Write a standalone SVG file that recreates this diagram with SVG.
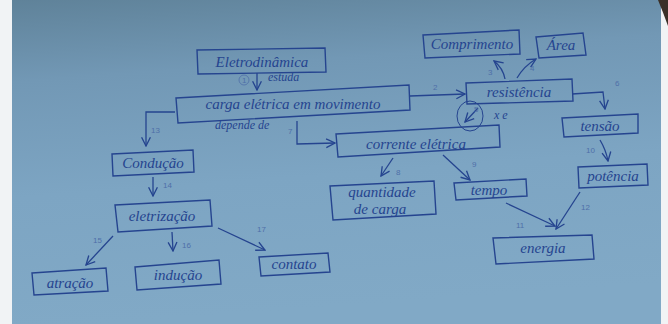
<svg xmlns="http://www.w3.org/2000/svg" width="668" height="324" viewBox="0 0 668 324">
<defs>
<linearGradient id="bg" x1="0" y1="0" x2="0.15" y2="1">
<stop offset="0" stop-color="#5f8299"/>
<stop offset="0.25" stop-color="#7298b5"/>
<stop offset="0.6" stop-color="#7da5c3"/>
<stop offset="1" stop-color="#81a9c6"/>
</linearGradient>
<marker id="ah" viewBox="0 0 10 10" refX="9" refY="5" markerWidth="11" markerHeight="11" orient="auto" markerUnits="userSpaceOnUse">
<path d="M1,1 L9,5 L1,9" fill="none" stroke="#25448f" stroke-width="1.2"/>
</marker>
<style>
.box{fill:none;stroke:#25448f;stroke-width:1.4}
.t{font-family:"Liberation Serif",serif;font-style:italic;fill:#25448f;font-size:15px;text-anchor:middle}
.lab{font-family:"Liberation Serif",serif;font-style:italic;fill:#25448f;font-size:12px}
.num{font-family:"Liberation Sans",sans-serif;fill:#4f6fa8;font-size:8px}
.c{fill:none;stroke:#25448f;stroke-width:1.3}
</style>
</defs>
<rect x="0" y="0" width="668" height="324" fill="url(#bg)"/>
<rect x="0" y="0" width="12" height="324" fill="#f1f3f5"/>
<rect x="661" y="0" width="7" height="324" fill="#f1f3f5"/>
<path d="M658,0 L668,0 L668,26 Q663,12 658,0 Z" fill="#3a3028"/>

<g id="connectors">
<path class="c" d="M257,73 L257,90" marker-end="url(#ah)"/>
<circle cx="244" cy="80" r="5" fill="none" stroke="#4f6fa8" stroke-width="0.8"/>
<text class="num" x="242" y="83">1</text>
<text class="lab" x="268" y="81">estuda</text>
<path class="c" d="M410,96 L465,94" marker-end="url(#ah)"/>
<text class="num" x="433" y="90">2</text>
<path class="c" d="M505,79 Q503,68 494,61" marker-end="url(#ah)"/>
<text class="num" x="488" y="75">3</text>
<path class="c" d="M517,78 Q524,66 536,59" marker-end="url(#ah)"/>
<text class="num" x="530" y="71">4</text>
<path class="c" d="M478,108 L465,122" marker-end="url(#ah)"/>
<ellipse cx="470" cy="116" rx="13" ry="15" fill="none" stroke="#25448f" stroke-width="1"/>
<text class="num" x="474" y="112">5</text>
<text class="lab" x="494" y="119" font-size="10">x e</text>
<path class="c" d="M572,94 L603,92 L605,109" marker-end="url(#ah)"/>
<text class="num" x="615" y="86">6</text>
<path class="c" d="M297,121 L297,144 L335,143" marker-end="url(#ah)"/>
<text class="num" x="288" y="134">7</text>
<text class="lab" x="215" y="129" font-size="10">depende de</text>
<path class="c" d="M393,158 L381,176" marker-end="url(#ah)"/>
<text class="num" x="396" y="175">8</text>
<path class="c" d="M443,155 L470,180" marker-end="url(#ah)"/>
<text class="num" x="472" y="167">9</text>
<path class="c" d="M600,140 Q606,150 608,161" marker-end="url(#ah)"/>
<text class="num" x="586" y="153">10</text>
<path class="c" d="M506,203 L555,226" marker-end="url(#ah)"/>
<text class="num" x="516" y="228">11</text>
<path class="c" d="M580,192 L556,229" marker-end="url(#ah)"/>
<text class="num" x="581" y="210">12</text>
<path class="c" d="M175,112 L146,112 L146,146" marker-end="url(#ah)"/>
<text class="num" x="151" y="133">13</text>
<path class="c" d="M153,177 L153,196" marker-end="url(#ah)"/>
<text class="num" x="163" y="188">14</text>
<path class="c" d="M113,236 L86,265" marker-end="url(#ah)"/>
<text class="num" x="93" y="243">15</text>
<path class="c" d="M172,232 L173,251" marker-end="url(#ah)"/>
<text class="num" x="182" y="248">16</text>
<path class="c" d="M218,228 L265,250" marker-end="url(#ah)"/>
<text class="num" x="257" y="232">17</text>
</g>

<g id="eletrodinamica">
<polygon class="box" points="197,50 325,48 326,72 198,74"/>
<text class="t" x="262" y="67">Eletrodinâmica</text>
</g>
<g id="carga">
<polygon class="box" points="176,98 409,85 410,110 178,123"/>
<text class="t" x="293" y="109" font-size="16">carga elétrica em movimento</text>
</g>
<g id="resistencia">
<polygon class="box" points="466,83 572,79 573,101 467,104"/>
<text class="t" x="519" y="97">resistência</text>
</g>
<g id="comprimento">
<polygon class="box" points="423,35 519,30 520,54 425,58"/>
<text class="t" x="472" y="49">Comprimento</text>
</g>
<g id="area">
<polygon class="box" points="536,37 583,33 586,55 539,58"/>
<text class="t" x="561" y="50">Área</text>
</g>
<g id="tensao">
<polygon class="box" points="562,118 638,114 638,133 564,137"/>
<text class="t" x="600" y="131">tensão</text>
</g>
<g id="potencia">
<polygon class="box" points="578,167 647,164 648,185 579,188"/>
<text class="t" x="613" y="181">potência</text>
</g>
<g id="corrente">
<polygon class="box" points="336,134 499,125 500,147 338,157"/>
<text class="t" x="416" y="149" font-size="16">corrente elétrica</text>
</g>
<g id="quantidade">
<polygon class="box" points="330,186 434,181 436,214 333,220"/>
<text class="t" x="382" y="197">quantidade</text>
<text class="t" x="380" y="214">de carga</text>
</g>
<g id="tempo">
<polygon class="box" points="454,183 526,179 527,196 456,200"/>
<text class="t" x="489" y="195">tempo</text>
</g>
<g id="energia">
<polygon class="box" points="493,238 592,235 594,259 496,264"/>
<text class="t" x="543" y="253">energia</text>
</g>
<g id="conducao">
<polygon class="box" points="112,154 193,150 194,172 113,176"/>
<text class="t" x="153" y="168">Condução</text>
</g>
<g id="eletrizacao">
<polygon class="box" points="115,205 210,200 212,226 118,232"/>
<text class="t" x="162" y="221">eletrização</text>
</g>
<g id="atracao">
<polygon class="box" points="32,273 106,268 108,291 34,295"/>
<text class="t" x="70" y="288">atração</text>
</g>
<g id="inducao">
<polygon class="box" points="135,267 219,260 221,284 137,290"/>
<text class="t" x="178" y="280">indução</text>
</g>
<g id="contato">
<polygon class="box" points="259,257 328,253 330,272 261,276"/>
<text class="t" x="294" y="269">contato</text>
</g>
</svg>
